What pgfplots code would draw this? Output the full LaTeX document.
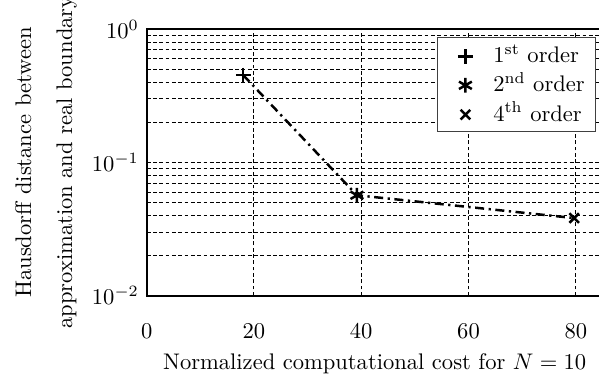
\documentclass[border=0pt]{standalone}
\usepackage{pgfplots}
\pgfplotsset{compat=1.18}
\begin{document}
\begin{tikzpicture}
\begin{axis}[
  scale only axis,
  width=202.1pt, height=118.1pt,
  xmin=0, xmax=85,
  ymode=log, ymin=1e-2, ymax=1,
  xtick={0,20,40,60,80},
  ytick={1e-2,1e-1,1},
  grid=both,
  major grid style={line width=0.45pt, black, dash pattern=on 1.7pt off 1.1pt},
  minor grid style={line width=0.45pt, black, dash pattern=on 1.7pt off 1.1pt},
  major tick length=0pt, minor tick length=0pt,
  axis line style={line width=0.8pt},
  xticklabel style={yshift=-8.8pt},
  xlabel={Normalized computational cost for $N=10$},
  ylabel={\begin{tabular}{@{}c@{}}Hausdorff distance between\\[6.2pt]approximation and real boundary\end{tabular}},
  ylabel style={yshift=-1.7pt},
  legend style={at={(0.9856,0.9722)}, anchor=north east, draw=black!75, line width=0.6pt,
    inner xsep=2.7pt, inner ysep=1.7pt, row sep=0pt,
    nodes={inner xsep=2pt, inner ysep=1.5pt}},
  legend cell align=left,
  legend image code/.code={\path (0pt,0pt) (19.5pt,0pt); \draw[#1] plot coordinates {(9.4pt,-0.6pt)};},
]
\addplot[black, line width=1.1pt, dash pattern=on 4pt off 2pt on 1pt off 2pt, forget plot]
  coordinates {(18,0.453) (39.2,0.0568) (79.7,0.0383)};
\addplot[only marks, black, mark=+, mark size=3.3pt, mark options={line width=1.1pt}]
  coordinates {(18,0.453)};
\addlegendentry{1\textsuperscript{st} order}
\addplot[only marks, black, mark=asterisk, mark size=3.3pt, mark options={line width=1.1pt}]
  coordinates {(39.2,0.0568)};
\addlegendentry{2\textsuperscript{nd} order}
\addplot[only marks, black, mark=x, mark size=3.0pt, mark options={line width=1.1pt}]
  coordinates {(79.7,0.0383)};
\addlegendentry{4\textsuperscript{th} order}
\end{axis}
\pgfresetboundingbox
\path[use as bounding box] (-65.03pt,-35.6pt) rectangle (200.5pt,131.1pt);
\end{tikzpicture}
\end{document}
